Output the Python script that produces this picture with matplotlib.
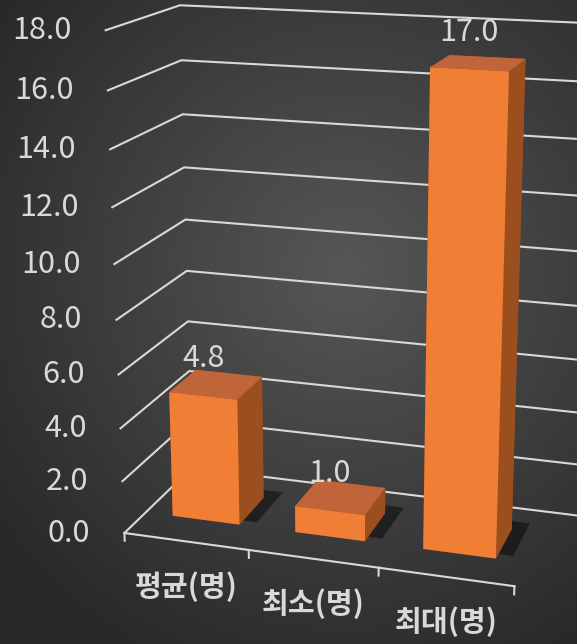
import numpy as np
import matplotlib
matplotlib.use('Agg')
import matplotlib.pyplot as plt
from mpl_toolkits.mplot3d import proj3d
from mpl_toolkits.mplot3d.art3d import Poly3DCollection

plt.rcParams['font.family'] = ['Noto Sans CJK KR', 'DejaVu Sans']

# ---- data ----
categories = ['평균(명)', '최소(명)', '최대(명)']
values = [4.8, 1.0, 17.0]
value_labels = ['4.8', '1.0', '17.0']
z_ticks = [0, 2, 4, 6, 8, 10, 12, 14, 16, 18]
z_tick_labels = ['0.0', '2.0', '4.0', '6.0', '8.0', '10.0', '12.0', '14.0', '16.0', '18.0']

W, H = 577, 644
fig = plt.figure(figsize=(W / 100, H / 100), dpi=100)

# background gradient
bg = fig.add_axes([0, 0, 1, 1])
bg.set_axis_off()
yy, xx = np.mgrid[0:1:400j, 0:1:400j]
r = np.sqrt((xx - 0.6) ** 2 + ((yy - 0.42) * 1.1) ** 2)
val = np.clip(0.34 - 0.24 * r, 0.16, 0.34)
bg.imshow(np.dstack([val, val, val]), extent=[0, 1, 0, 1], aspect='auto', origin='upper')
bg.set_xlim(0, 1); bg.set_ylim(0, 1)

ax = fig.add_axes([0.0, -0.0157, 1.15, 1.12], projection='3d', computed_zorder=False)
ax.set_facecolor('none')
ax.set_axis_off()

n = len(categories)
D = 1.0
ax.set_xlim(0, n)
ax.set_ylim(0, D)
ax.set_zlim(0, 18)
ax.set_xticks([]); ax.set_yticks([]); ax.set_zticks([])
ax.set_box_aspect((3, 1.35, 3.8), zoom=1.0)
ax.set_proj_type('persp', focal_length=0.5)
ax.view_init(elev=16.5, azim=-72.5)


def P(x, y, z):
    xp, yp, _ = proj3d.proj_transform(x, y, z, ax.get_proj())
    return xp, yp


txt_c = '#d9d9d9'
grid_c = '#d9d9d9'
for zt in z_ticks:
    ax.plot([0, 0, n + 0.2], [0, D, D], [zt, zt, zt], color=grid_c, lw=1.5, zorder=1)
ax.plot([0, n], [0, 0], [0, 0], color=grid_c, lw=1.5, zorder=4)
for k in range(n + 1):
    ax.plot([k, k], [0, 0], [0, -0.3], color=grid_c, lw=1.5, zorder=4)

for zt, lab in zip(z_ticks, z_tick_labels):
    ax.annotate(lab, xy=P(0, 0, zt), xycoords='data', xytext=(-34, 0), textcoords='offset pixels',
                ha='right', va='center', color=txt_c, fontsize=22, zorder=6)

bw = 0.55
bd = 0.4
xs = np.arange(n) + (1 - bw) / 2
ys = np.full(n, (D - bd) / 2)
zs = np.zeros(n)
face_cols = []
for _ in range(n):
    # -z, +z, -y, +y, -x, +x
    face_cols += ['#8a4518', '#bf6539', '#f07f35', '#a04d1a', '#a04d1a', '#9c4f1e']

for x0, y0, v in zip(xs, ys, values):
    sx, sy = 0.07, 0.06
    verts = [[(x0 + sx, y0 + sy, 0), (x0 + bw + sx + 0.04, y0 + sy, 0),
              (x0 + bw + sx + 0.04, y0 + bd + sy + 0.05, 0), (x0 + sx, y0 + bd + sy + 0.05, 0)]]
    sh = Poly3DCollection(verts, facecolor=(0, 0, 0, 0.45), edgecolor='none', zorder=2)
    ax.add_collection3d(sh)

ax.bar3d(xs, ys, zs, bw, bd, values, color=face_cols, shade=False, zorder=3, edgecolor='none')

for x0, y0, v, lab in zip(xs, ys, values, value_labels):
    ax.annotate(lab, xy=P(x0 + bw / 2, y0, v), xycoords='data', xytext=(0, 37),
                textcoords='offset pixels', ha='center', va='center', color=txt_c,
                fontsize=22, zorder=6)

for k, cat in enumerate(categories):
    ax.annotate(cat, xy=P(k + 0.5, 0, 0), xycoords='data', xytext=(0, -45),
                textcoords='offset pixels', ha='center', va='center', color=txt_c,
                fontsize=21, fontweight='bold', zorder=6)

fig.savefig('out.png', dpi=100)
